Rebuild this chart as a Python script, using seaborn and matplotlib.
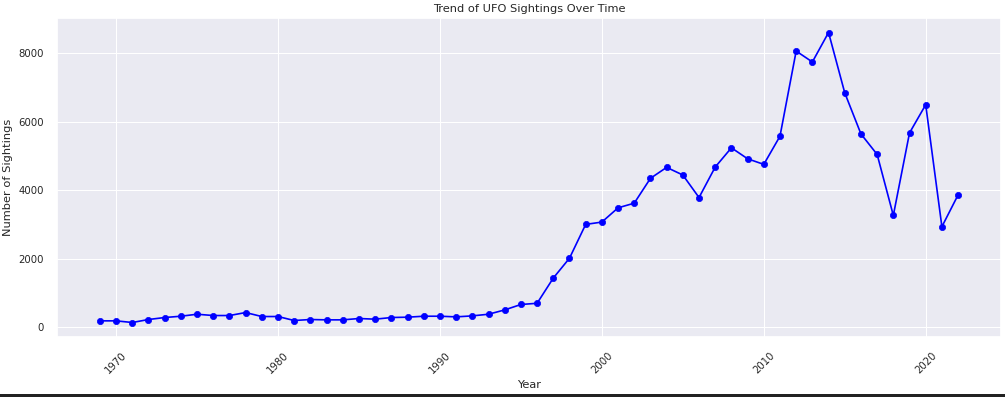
import matplotlib
matplotlib.use("Agg")
import matplotlib.pyplot as plt
import seaborn as sns
import pandas as pd
from matplotlib.patches import Rectangle

years = list(range(1969, 2023))
sightings = [193, 193, 145, 232, 290, 328, 386, 348, 348, 435,
             319, 319, 203, 232, 222, 222, 261, 242, 290, 300,
             328, 328, 309, 338, 386, 512, 670, 705, 1440, 2019,
             3004, 3072, 3487, 3623, 4347, 4666, 4444, 3787, 4675, 5236,
             4917, 4753, 5574, 8056, 7738, 8597, 6839, 5641, 5043, 3265,
             5670, 6492, 2937, 3864]

df = pd.DataFrame({"Year": years, "Number of Sightings": sightings})

sns.set_theme(style="darkgrid", rc={"grid.linewidth": 0.75})
fig = plt.figure(figsize=(10.05, 3.97), dpi=100)
ax = fig.add_axes([57/1005, 1 - 337/397, (1001-57)/1005, (337-18)/397])
sns.lineplot(data=df, x="Year", y="Number of Sightings", marker="o",
             color="blue", markersize=4.5, markeredgecolor="blue",
             markeredgewidth=0.5, linewidth=1.2, ax=ax)
ax.set_title("Trend of UFO Sightings Over Time", fontsize=8.2, pad=4)
ax.set_xlabel("Year", fontsize=8.2, labelpad=3)
ax.set_ylabel("Number of Sightings", fontsize=8.2, labelpad=4)
ax.tick_params(axis="both", labelsize=7.3)
ax.set_yticks([0, 2000, 4000, 6000, 8000])
ax.set_xticks([1970, 1980, 1990, 2000, 2010, 2020])
plt.setp(ax.get_xticklabels(), rotation=45)

fig.add_artist(Rectangle((0, 0), 1, 3/397, transform=fig.transFigure,
                         facecolor="#222222", edgecolor="none"))
fig.savefig("out.png", dpi=100)
